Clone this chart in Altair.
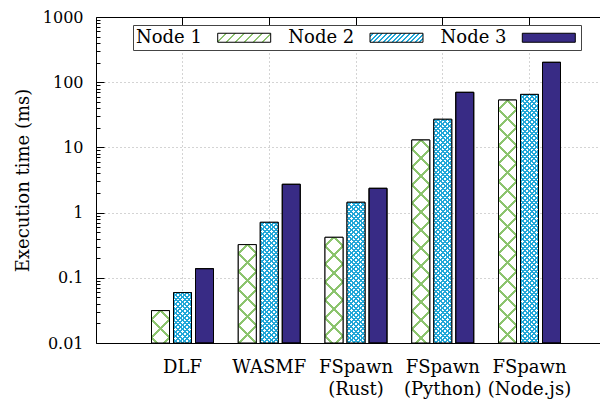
import json
import math
import altair as alt

# ---------------- data ----------------
categories = ["DLF", "WASMF", "FSpawn (Rust)", "FSpawn (Python)", "FSpawn (Node.js)"]
nodes = ["Node 1", "Node 2", "Node 3"]
node1 = [0.0314, 0.323, 0.418, 13.0, 53.3]
node2 = [0.0593, 0.71, 1.44, 27.0, 65.0]
node3 = [0.138, 2.72, 2.36, 70.0, 202.0]
y_major = [0.01, 0.1, 1, 10, 100, 1000]
y_minor = [0.02, 0.03, 0.04, 0.05, 0.06, 0.07, 0.08, 0.09,
           0.2, 0.3, 0.4, 0.5, 0.6, 0.7, 0.8, 0.9,
           2, 3, 4, 5, 6, 7, 8, 9,
           20, 30, 40, 50, 60, 70, 80, 90,
           200, 300, 400, 500, 600, 700, 800, 900]

# ---------------- layout / style ----------------
W, H = 504, 326
Y_MIN, Y_MAX = 0.01, 1000
BAR_W = 18.0
GREEN = "#8cc46e"
CYAN = "#22a7d8"
NAVY = "#382b85"
FONT = "DejaVu Serif"
CLEAR = "rgba(255,255,255,0)"
HATCH = {"Node 1": (GREEN, 18.0, 3.0), "Node 2": (CYAN, 4.6, 2.0)}


def hatch(w, h, period, thick, color, gap, back):
    """Linear gradient giving 45-degree stripes on a w x h box."""
    L = w + h
    k = L / (w * w + h * h)
    if back:
        x1, y1, x2, y2 = 1.0, 0.0, 1.0 - k * w, k * h
    else:
        x1, y1, x2, y2 = 0.0, 0.0, k * w, k * h
    stops = [{"offset": 0, "color": gap}]
    c = w / 2.0 - period * math.ceil((w / 2.0 + thick) / period)
    while c - thick / 2.0 < L:
        a = max(0.0, (c - thick / 2.0) / L)
        b = min(1.0, (c + thick / 2.0) / L)
        if b > 0:
            stops += [{"offset": round(a, 5), "color": gap},
                      {"offset": round(a, 5), "color": color},
                      {"offset": round(b, 5), "color": color},
                      {"offset": round(b, 5), "color": gap}]
        c += period
    stops.append({"offset": 1, "color": gap})
    return {"gradient": "linear", "x1": x1, "y1": y1, "x2": round(x2, 6),
            "y2": round(y2, 6), "stops": stops}


rows = []
for series, vals in zip(nodes, [node1, node2, node3]):
    for cat, v in zip(categories, vals):
        row = {"cat": cat, "node": series, "value": v}
        if series in HATCH:
            col, per, th = HATCH[series]
            h = (math.log10(v) - math.log10(Y_MIN)) / (math.log10(Y_MAX) - math.log10(Y_MIN)) * H
            row["g1"] = hatch(BAR_W, h, per, th, col, "white", False)
            row["g2"] = hatch(BAR_W, h, per, th, col, CLEAR, True)
        rows.append(row)

# legend symbol fills (53 x 9 boxes)
leg1 = json.dumps(hatch(53, 9, 9, 2.5, GREEN, "white", False))
leg2 = json.dumps(hatch(53, 9, 4.6, 2.0, CYAN, "white", False))

data = alt.Data(values=rows)
base = alt.Chart(data)

x_scale = alt.Scale(paddingInner=0, paddingOuter=0.4049, align=0.6139)
xo_scale = alt.Scale(paddingInner=0.1818, paddingOuter=0.5625)
y_scale = alt.Scale(type="log", domain=[Y_MIN, Y_MAX], nice=False)

GRID = dict(grid=True, gridColor="#a8a8a8", gridDash=[1, 3], gridWidth=1)

x_main = alt.Axis(orient="bottom", title=None, ticks=False, tickSize=0, labelAngle=0,
                  labelFontSize=18, labelLineHeight=22, labelPadding=15,
                  labelColor="black", labelExpr="split(datum.label, ' ')",
                  domain=True, domainColor="black", domainWidth=1,
                  bandPosition=0.5, **GRID)
x_top = alt.Axis(orient="bottom", offset=-H, title=None, labels=False, ticks=True,
                 tickSize=8, tickColor="black", tickWidth=1, domain=True,
                 domainColor="black", domainWidth=1, grid=False, bandPosition=0.5)
y_main = alt.Axis(orient="left", values=y_major, format="~g", ticks=False, tickSize=0,
                  labelFontSize=16, labelPadding=13, labelColor="black",
                  labelFlush=False, labelOverlap=False,
                  domain=True, domainColor="black", domainWidth=1,
                  title="Execution time (ms)", titleFontSize=18, titleFontWeight="normal",
                  titleColor="black", titlePadding=10, **GRID)
y_big = alt.Axis(orient="right", offset=-W, values=y_major, labels=False, ticks=True,
                 tickSize=8, tickColor="black", tickWidth=1, domain=False, grid=False,
                 title=None)
y_small = alt.Axis(orient="right", offset=-W, values=y_minor, labels=False, ticks=True,
                   tickSize=4, tickColor="black", tickWidth=1, domain=False, grid=False,
                   title=None)


def enc(xaxis, yaxis):
    return dict(
        x=alt.X("cat:N", sort=categories, scale=x_scale, axis=xaxis),
        xOffset=alt.XOffset("node:N", sort=nodes, scale=xo_scale),
        y=alt.Y("value:Q", scale=y_scale, stack=None, axis=yaxis),
    )


legend = alt.Legend(orient="none", legendX=37, legendY=8, direction="horizontal",
                    columns=3, title=None,
                    symbolType="M-2.944,-0.5H2.944V0.5H-2.944Z",
                    symbolSize=324, symbolStrokeColor="black", symbolStrokeWidth=1,
                    labelFontSize=18, labelColor="black",
                    labelOffset=alt.ExprRef(expr="-117.7"),
                    symbolOffset=98.7, columnPadding=15.3, padding=3,
                    strokeColor="#444444", fillColor="white",
                    labelExpr="'\u00a0' + datum.label")

layer_a = base.mark_bar(stroke="black", strokeWidth=1).encode(
    fill=alt.Fill("node:N", scale=alt.Scale(domain=nodes,
                                            range=[alt.ExprRef(expr=leg1),
                                                   alt.ExprRef(expr=leg2), NAVY]),
                  legend=legend),
    **enc(x_main, y_main))

layer_c = base.transform_filter("datum.node != 'Node 3'").mark_bar().encode(
    fill=alt.Fill("g1:N", scale=None, legend=None),
    **enc(x_top, y_big))

layer_d = base.transform_filter("datum.node != 'Node 3'").mark_bar().encode(
    fill=alt.Fill("g2:N", scale=None, legend=None),
    **enc(None, y_small))

layer_e = base.mark_bar(fill="transparent", stroke="black", strokeWidth=1).encode(
    **enc(None, None))

chart = alt.layer(layer_a, layer_c, layer_d, layer_e).resolve_axis(
    x="independent", y="independent"
).properties(
    width=W, height=H,
    autosize=alt.AutoSizeParams(type="none"),
    padding={"left": 88, "top": 9, "right": 0, "bottom": 56},
).configure(font=FONT).configure_view(strokeWidth=0)

chart.save("out.html", embed_options={"renderer": "svg", "actions": False})
